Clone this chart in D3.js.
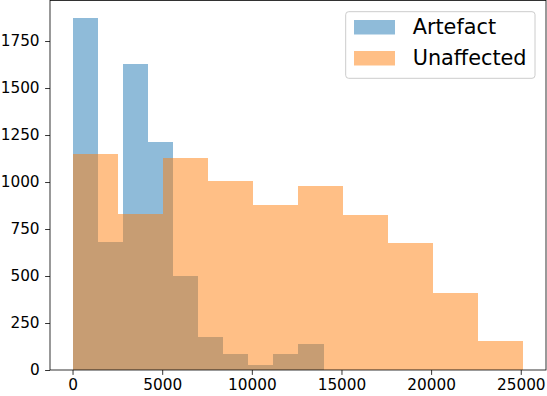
<!DOCTYPE html>
<html><head><meta charset="utf-8">
<script src="https://cdn.jsdelivr.net/npm/d3@7"></script>
<style>body{margin:0;background:#fff}svg{display:block}text{font-family:"DejaVu Sans",sans-serif}</style>
</head><body><div id="c"></div>
<script>
const seriesNames = ["Artefact", "Unaffected"];
const artefactEdges = [0, 1400, 2800, 4200, 5600, 7000, 8400, 9800, 11200, 12600, 14000];
const artefactCounts = [1872, 683, 1629, 1213, 500, 177, 85, 28, 85, 138];
const unaffectedEdges = [0, 2515, 5030, 7545, 10060, 12575, 15090, 17605, 20120, 22635, 25150];
const unaffectedCounts = [1149, 830, 1128, 1005, 878, 979, 824, 677, 410, 154];
const xTicks = [0, 5000, 10000, 15000, 20000, 25000];
const yTicks = [0, 250, 500, 750, 1000, 1250, 1500, 1750];
const colors = ["#1f77b4", "#ff7f0e"];

const W = 547, H = 396;
const L = 50, R = 546, T = 0.5, B = 370;
const svg = d3.select("#c").append("svg").attr("width", W).attr("height", H);

const xmin = 0, xmax = d3.max(unaffectedEdges.concat(artefactEdges));
const xpad = (xmax - xmin) * 0.05;
const x = d3.scaleLinear().domain([xmin - xpad, xmax + xpad]).range([L, R]);
const ymax = d3.max(artefactCounts.concat(unaffectedCounts)) * 1.05;
const y = d3.scaleLinear().domain([0, ymax]).range([B, T]);

const series = [
  {edges: artefactEdges, counts: artefactCounts},
  {edges: unaffectedEdges, counts: unaffectedCounts}
];
series.forEach((s, si) => {
  const bins = s.counts.map((c, i) => ({x0: s.edges[i], x1: s.edges[i + 1], c}));
  svg.append("g").selectAll("rect").data(bins).join("rect")
    .attr("x", d => x(d.x0)).attr("width", d => x(d.x1) - x(d.x0))
    .attr("y", d => y(d.c)).attr("height", d => y(0) - y(d.c))
    .attr("shape-rendering", "crispEdges")
    .attr("fill", colors[si]).attr("fill-opacity", 0.5);
});

const xAxis = svg.append("g").attr("transform", `translate(0,${B})`)
  .call(d3.axisBottom(x).tickValues(xTicks).tickFormat(d3.format("d")).tickSize(4.9).tickPadding(4.3));
const yAxis = svg.append("g").attr("transform", `translate(${L},0)`)
  .call(d3.axisLeft(y).tickValues(yTicks).tickFormat(d3.format("d")).tickSize(4.9).tickPadding(5.5));
[xAxis, yAxis].forEach(a => {
  a.select(".domain").remove();
  a.selectAll("line").attr("stroke", "#000").attr("stroke-width", 0.8);
  a.selectAll("text").attr("font-size", "15.3px").attr("fill", "#000").attr("font-family", "DejaVu Sans");
});

svg.append("rect").attr("x", L).attr("y", T).attr("width", R - L).attr("height", B - T)
  .attr("fill", "none").attr("stroke", "#000").attr("stroke-width", 0.8);

// legend
const lg = svg.append("g");
lg.append("rect").attr("x", 345.7).attr("y", 11.7).attr("width", 189.3).attr("height", 66.6)
  .attr("rx", 3).attr("fill", "#fff").attr("fill-opacity", 0.8).attr("stroke", "#cccccc").attr("stroke-width", 1);
seriesNames.forEach((n, i) => {
  lg.append("rect").attr("x", 354).attr("y", 20 + i * 31).attr("width", 41).attr("height", 14.5)
    .attr("fill", colors[i]).attr("fill-opacity", 0.5);
  lg.append("text").attr("x", 412.7).attr("y", 34.3 + i * 31).attr("font-size", "20.8px").attr("fill", "#000").text(n);
});
</script></body></html>
